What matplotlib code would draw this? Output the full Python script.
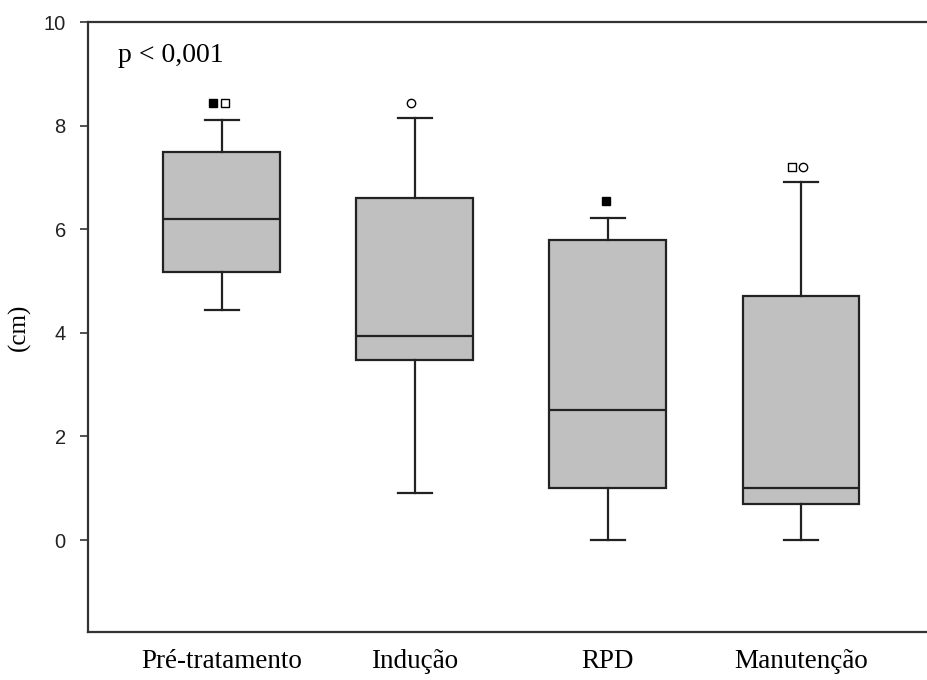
import matplotlib
matplotlib.use("Agg")
import matplotlib.pyplot as plt

categories = ["Pré-tratamento", "Indução", "RPD", "Manutenção"]
whisker_low = [4.44, 0.91, 0.0, 0.0]
q1 = [5.18, 3.47, 1.0, 0.69]
median = [6.2, 3.94, 2.51, 1.0]
q3 = [7.5, 6.60, 5.79, 4.71]
whisker_high = [8.11, 8.15, 6.22, 6.91]

# outliers: (category index, value, marker kind)
outlier_cat = [0, 0, 1, 2, 3, 3]
outlier_val = [8.44, 8.44, 8.44, 6.54, 7.2, 7.2]
outlier_kind = ["filled_sq", "open_sq", "open_circ", "filled_sq", "open_sq", "open_circ"]
outlier_shift = [-0.047, 0.016, -0.02, -0.01, -0.047, 0.01]

yticks = [0, 2, 4, 6, 8, 10]

fig = plt.figure(figsize=(9.28, 6.8), dpi=100)
ax = fig.add_axes([88/928, 48/680, 1 - 88/928, 610/680])

positions = [1, 2, 3, 4]
stats = []
for i in range(4):
    stats.append(dict(med=median[i], q1=q1[i], q3=q3[i], whislo=whisker_low[i],
                      whishi=whisker_high[i], fliers=[], label=categories[i]))

ec = "#222222"
ax.bxp(stats, positions=positions, widths=0.606, capwidths=0.175, patch_artist=True,
       showfliers=False,
       boxprops=dict(facecolor="#c0c0c0", edgecolor=ec, linewidth=1.6),
       medianprops=dict(color=ec, linewidth=1.6),
       whiskerprops=dict(color=ec, linewidth=1.6),
       capprops=dict(color=ec, linewidth=1.6))

styles = {
    "filled_sq": dict(marker="s", mfc="black", mec="black", ms=5.5),
    "open_sq": dict(marker="s", mfc="white", mec="black", ms=5.5, mew=1.0),
    "open_circ": dict(marker="o", mfc="white", mec="black", ms=6, mew=1.0),
}
for c, v, k, s in zip(outlier_cat, outlier_val, outlier_kind, outlier_shift):
    ax.plot([positions[c] + s], [v], linestyle="none", **styles[k])

ax.set_xlim(0.306, 4.658)
ax.set_ylim(-1.776, 10)
ax.set_yticks(yticks)
ax.set_yticklabels([str(t) for t in yticks], fontfamily="Liberation Sans", fontsize=14.5, color="#222222")
ax.tick_params(axis="y", direction="out", length=6, width=1.2, color="#333333", pad=10)
ax.set_xticks(positions)
ax.set_xticklabels(categories, fontfamily="Liberation Serif", fontsize=19.5)
ax.tick_params(axis="x", length=0, pad=12)

ax.spines["right"].set_visible(False)
for sp in ["left", "top", "bottom"]:
    ax.spines[sp].set_linewidth(1.6)
    ax.spines[sp].set_color("#333333")

ax.set_ylabel("(cm)", fontfamily="Liberation Serif", fontsize=18)
ax.yaxis.set_label_coords(-57/840, 0.5)

fig.text(118/928, 1 - 62/680, "p < 0,001", fontfamily="Liberation Serif",
         fontsize=20, ha="left", va="baseline")

fig.savefig("out.png", dpi=100)
